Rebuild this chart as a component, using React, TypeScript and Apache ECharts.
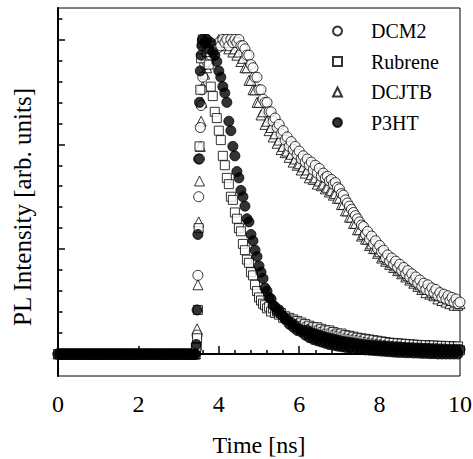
import React, { useEffect, useRef } from 'react';
import * as echarts from 'echarts';

// Time axis (ns): flat pre-pulse baseline, then the signal region
const baselineTime = [
  0, 0.05, 0.1, 0.15, 0.2, 0.25, 0.3, 0.35, 0.4, 0.45, 0.5, 0.55, 0.6, 0.65, 0.7, 0.75, 0.8, 0.85, 0.9, 0.95,
  1.0, 1.05, 1.1, 1.15, 1.2, 1.25, 1.3, 1.35, 1.4, 1.45, 1.5, 1.55, 1.6, 1.65, 1.7, 1.75, 1.8, 1.85, 1.9, 1.95,
  2.0, 2.05, 2.1, 2.15, 2.2, 2.25, 2.3, 2.35, 2.4, 2.45, 2.5, 2.55, 2.6, 2.65, 2.7, 2.75, 2.8, 2.85, 2.9, 2.95,
  3.0, 3.05, 3.1, 3.15, 3.2, 3.25, 3.3, 3.35, 3.4,
];
const baselineValues = [
  0, 0, 0, 0, 0, 0, 0, 0, 0, 0, 0, 0, 0, 0, 0, 0, 0, 0, 0, 0,
  0, 0, 0, 0, 0, 0, 0, 0, 0, 0, 0, 0, 0, 0, 0, 0, 0, 0, 0, 0,
  0, 0, 0, 0, 0, 0, 0, 0, 0, 0, 0, 0, 0, 0, 0, 0, 0, 0, 0, 0,
  0, 0, 0, 0, 0, 0, 0, 0, 0,
];

const signalTime = [
  3.42, 3.44, 3.46, 3.48, 3.5, 3.52, 3.54, 3.56, 3.58, 3.6,
  3.65, 3.7, 3.75, 3.8, 3.85, 3.9, 3.95, 4.0, 4.05, 4.1,
  4.15, 4.2, 4.25, 4.3, 4.35, 4.4, 4.45, 4.5, 4.55, 4.6,
  4.65, 4.7, 4.75, 4.8, 4.85, 4.9, 4.95, 5.0, 5.05, 5.1,
  5.15, 5.2, 5.25, 5.3, 5.35, 5.4, 5.45, 5.5, 5.55, 5.6,
  5.65, 5.7, 5.75, 5.8, 5.85, 5.9, 5.95, 6.0, 6.05, 6.1,
  6.15, 6.2, 6.25, 6.3, 6.35, 6.4, 6.45, 6.5, 6.55, 6.6,
  6.65, 6.7, 6.75, 6.8, 6.85, 6.9, 6.95, 7.0, 7.05, 7.1,
  7.15, 7.2, 7.25, 7.3, 7.35, 7.4, 7.45, 7.5, 7.55, 7.6,
  7.65, 7.7, 7.75, 7.8, 7.85, 7.9, 7.95, 8.0, 8.05, 8.1,
  8.15, 8.2, 8.25, 8.3, 8.35, 8.4, 8.45, 8.5, 8.55, 8.6,
  8.65, 8.7, 8.75, 8.8, 8.85, 8.9, 8.95, 9.0, 9.05, 9.1,
  9.15, 9.2, 9.25, 9.3, 9.35, 9.4, 9.45, 9.5, 9.55, 9.6,
  9.65, 9.7, 9.75, 9.8, 9.85, 9.9, 9.95, 10.0,
];

const dcm2 = [
  0, 2, 6, 25, 50, 62, 72, 79, 84, 88,
  92, 93, 96, 95, 97, 98, 97, 99, 98, 100,
  99, 100, 98, 100, 99, 100, 99, 100, 98, 98,
  97, 95, 95, 92, 91, 88, 88, 84, 84, 81,
  80, 80, 77, 77, 74, 75, 72, 73, 70, 71,
  68, 69, 66, 67.5, 65, 66, 63.5, 64.5, 62, 63,
  61, 62, 60, 61, 58.5, 60, 57.5, 59, 56.5, 57.5,
  56, 56.5, 55, 55.5, 54, 54.5, 53, 52.5, 51, 50.5,
  49, 48, 47, 46, 45, 44, 43, 42, 41, 40.5,
  38, 39, 36.5, 37.5, 35, 36, 33.5, 34.5, 32.5, 33,
  30.5, 31.5, 29.5, 30.5, 28.5, 29.5, 27.5, 28.5, 26.5, 27.5,
  25.5, 26.5, 24.5, 25.5, 23.5, 24.5, 22.5, 23.5, 21.5, 22.5,
  20.5, 22, 20, 21, 19.5, 20.5, 18.5, 19.5, 18, 19,
  17.5, 18.5, 17, 18, 16.5, 17.5, 16, 16.5,
];

const rubrene = [
  0, 2, 5, 14, 40, 66, 84, 94, 99, 100,
  100, 96, 92, 85, 82, 77, 75, 71, 68, 63,
  60, 56, 54, 50, 49, 45, 43, 40, 39, 35,
  33, 30, 29, 26, 25, 22, 20, 18, 17, 16,
  15.5, 14.5, 15, 13.5, 14.5, 13, 13.5, 12.5, 13, 11.5,
  12, 11, 11.5, 10.5, 11, 10, 10.5, 9.5, 10, 9,
  9.5, 8.5, 9, 8, 8.5, 7.5, 8.5, 7.5, 8, 7,
  7.5, 6.5, 7.5, 6.5, 7, 6, 6.5, 5.8, 6.5, 5.5,
  6, 5, 5.8, 4.8, 5.5, 4.6, 5.2, 4.4, 5, 4.2,
  4.8, 3.8, 4.6, 3.6, 4.4, 3.4, 4.2, 3.2, 4, 3,
  3.8, 2.8, 3.6, 2.6, 3.5, 2.5, 3.4, 2.4, 3.3, 2.2,
  3.2, 2.1, 3.1, 2, 3, 1.9, 2.9, 1.8, 2.8, 1.7,
  2.8, 1.6, 2.7, 1.5, 2.7, 1.5, 2.6, 1.4, 2.6, 1.3,
  2.5, 1.3, 2.5, 1.2, 2.4, 1.2, 2.4, 1.2,
];

const dcjtb = [
  0, 3, 8, 22, 42, 55, 66, 74, 80, 85,
  89, 91, 94, 95, 97, 98, 98, 100, 99, 100,
  98, 100, 97, 99, 96, 97, 95, 96, 93, 94,
  91, 91, 87, 87, 84, 84, 80, 80, 76, 77,
  73, 74, 71, 72, 69, 70, 67, 68, 65, 66,
  64, 64.5, 62.5, 63.5, 61, 62, 60, 60.5, 58.5, 59.5,
  57.5, 58.5, 56, 57, 55.5, 56, 54, 55, 53.5, 54,
  52.5, 53, 51.5, 52, 50.5, 51, 49.5, 49.5, 47.5, 47.5,
  45.5, 45.5, 43.5, 43.5, 41.5, 41.5, 39.5, 39.5, 37.5, 38,
  36.5, 36.5, 34.5, 35, 33.5, 33.5, 32, 32.5, 30.5, 31,
  29.5, 30, 28.5, 29, 27.5, 28, 26.5, 27, 25.5, 26,
  24.5, 25, 23.5, 24, 22.5, 23, 21.5, 22, 20.5, 21,
  19.5, 20.5, 19, 19.5, 18.5, 19, 17.5, 18.5, 17, 18,
  16.5, 17.5, 16, 17, 15.5, 16.5, 15.5, 16,
];

const p3ht = [
  0, 3, 14, 38, 62, 80, 90, 95, 98, 100,
  99, 100, 97, 99, 96, 95, 93, 90, 88, 85,
  83, 80, 74, 71, 66, 63, 58, 56, 52, 50,
  47, 43, 42, 38, 36, 33, 31, 28, 26, 24,
  21, 20, 18, 17.5, 15.5, 15, 13.5, 14, 12.5, 12,
  11, 11, 9.5, 10, 8.5, 9, 7.5, 8, 7, 7.5,
  6, 7.5, 5.2, 6.8, 4.6, 6.4, 4.2, 6, 3.8, 5.6,
  3.4, 5.2, 3, 4.9, 2.8, 4.6, 2.5, 4.3, 2.3, 4,
  2.1, 3.8, 1.9, 3.6, 1.7, 3.4, 1.5, 3.2, 1.4, 3,
  1.3, 2.9, 1.2, 2.8, 1.1, 2.7, 1, 2.6, 0.9, 2.5,
  0.8, 2.4, 0.7, 2.3, 0.6, 2.2, 0.5, 2.2, 0.5, 2.1,
  0.4, 2, 0.4, 2, 0.3, 1.9, 0.3, 1.9, 0.2, 1.8,
  0.2, 1.8, 0.1, 1.7, 0.1, 1.7, 0, 1.6, 0, 1.6,
  0, 1.5, 0, 1.5, 0, 1.5, 0, 1.4,
];

const legendNames = ['DCM2', 'Rubrene', 'DCJTB', 'P3HT'];
const xTicks = [0, 2, 4, 6, 8, 10];
const yMajorTicks = [0, 33.33, 66.67, 100];
const yMinorTicks = [6.67, 13.33, 20, 26.67, 40, 46.67, 53.33, 60, 73.33, 80, 86.67, 93.33, 106.67];

const FONT = 'Liberation Serif';

export default function App() {
  const ref = useRef<HTMLDivElement>(null);

  useEffect(() => {
    document.body.style.margin = '0';
    const chart = echarts.init(ref.current!, null, { renderer: 'svg' });
    const times = baselineTime.concat(signalTime);
    const build = (vals: number[]) =>
      times.map((t, i) => [t, i < baselineTime.length ? baselineValues[i] : vals[i - baselineTime.length]]);

    const openStyle = { color: '#ffffff', borderColor: '#000000', borderWidth: 1 };
    const tickLine = { color: '#000', width: 1.5 };

    chart.setOption({
      animation: false,
      backgroundColor: '#ffffff',
      textStyle: { fontFamily: FONT, color: '#000' },
      grid: [
        { left: 58, right: 13, top: 8, bottom: 83, show: true, borderColor: '#000', borderWidth: 1, containLabel: false, outerBoundsMode: 'none' },
        { left: 58, right: 13, top: 8, bottom: 83, show: false, containLabel: false, outerBoundsMode: 'none' },
      ],
      legend: {
        orient: 'vertical',
        left: 327,
        top: 16,
        itemWidth: 9,
        itemHeight: 9,
        itemGap: 10.5,
        data: legendNames,
        textStyle: { fontFamily: FONT, fontSize: 20, color: '#000', lineHeight: 20, padding: [0, 0, 0, 24] },
      },
      xAxis: [
        {
          type: 'value',
          gridIndex: 0,
          min: xTicks[0],
          max: xTicks[xTicks.length - 1],
          interval: 2,
          axisLine: { show: true, lineStyle: { color: '#000', width: 2 } },
          axisTick: { show: true, inside: true, length: 8, lineStyle: tickLine },
          minorTick: { show: true, splitNumber: 5, length: 4, lineStyle: tickLine },
          axisLabel: { fontFamily: FONT, fontSize: 24, color: '#000', margin: 16 },
          splitLine: { show: false },
          minorSplitLine: { show: false },
          name: 'Time [ns]',
          nameLocation: 'middle',
          nameGap: 57,
          nameTextStyle: { fontFamily: FONT, fontSize: 24, color: '#000' },
        },
        {
          type: 'value',
          gridIndex: 1,
          min: 0,
          max: 10,
          show: false,
        },
      ],
      yAxis: [
        {
          type: 'value',
          gridIndex: 0,
          min: -7,
          max: 110,
          axisLine: { show: true, lineStyle: { color: '#000', width: 2 } },
          axisTick: { show: true, inside: true, length: 7, customValues: yMajorTicks, lineStyle: tickLine },
          axisLabel: { show: false },
          splitLine: { show: false },
        },
        {
          type: 'value',
          gridIndex: 1,
          min: -7,
          max: 110,
          position: 'left',
          axisLine: { show: false },
          axisTick: { show: true, inside: true, length: 4.5, customValues: yMinorTicks, lineStyle: tickLine },
          axisLabel: { show: false },
          splitLine: { show: false },
        },
      ],
      graphic: [
        {
          type: 'text',
          x: 22,
          y: 207,
          rotation: Math.PI / 2,
          style: {
            text: 'PL Intensity [arb. units]',
            font: '25px "Liberation Serif"',
            fill: '#000000',
            align: 'center',
            verticalAlign: 'middle',
          },
        },
      ],
      series: [
        { name: 'DCJTB', type: 'scatter', symbol: 'triangle', symbolSize: 10, itemStyle: openStyle, data: build(dcjtb), xAxisIndex: 0, yAxisIndex: 0 },
        { name: 'DCM2', type: 'scatter', symbol: 'circle', symbolSize: 10, itemStyle: openStyle, data: build(dcm2), xAxisIndex: 0, yAxisIndex: 0 },
        { name: 'Rubrene', type: 'scatter', symbol: 'rect', symbolSize: 9, itemStyle: openStyle, data: build(rubrene), xAxisIndex: 0, yAxisIndex: 0 },
        { name: 'P3HT', type: 'scatter', symbol: 'circle', symbolSize: 10, itemStyle: { color: '#000', borderColor: '#000', borderWidth: 1 }, data: build(p3ht), xAxisIndex: 0, yAxisIndex: 0 },
      ],
    });
    return () => chart.dispose();
  }, []);

  return <div ref={ref} style={{ position: 'fixed', left: 0, top: 0, width: 473, height: 459, background: '#fff' }} />;
}
